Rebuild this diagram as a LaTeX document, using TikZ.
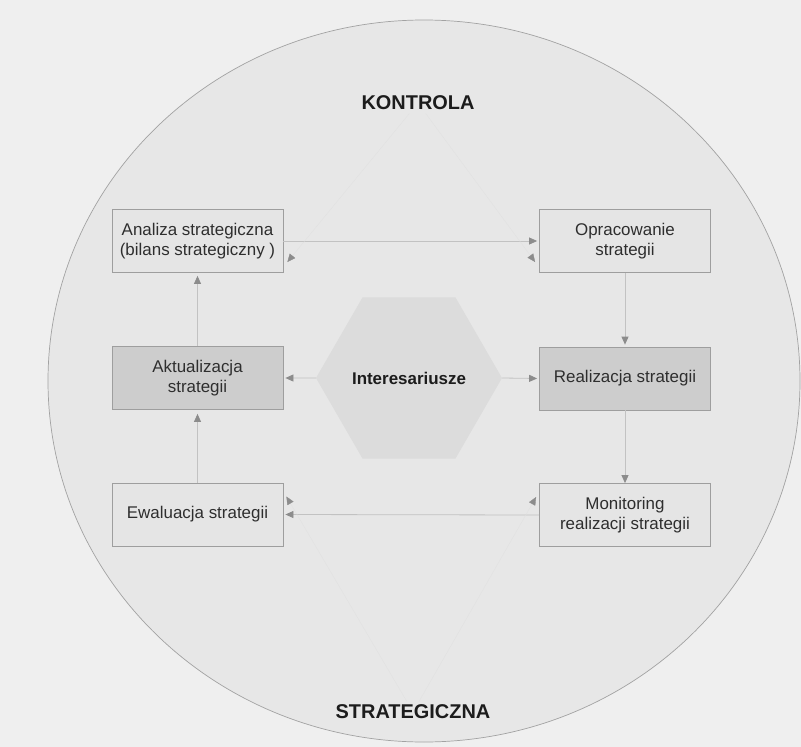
\documentclass[tikz,border=0pt]{standalone}
\usepackage{fontspec}
\setmainfont{Liberation Sans}
\usetikzlibrary{arrows.meta,shapes.geometric}

\definecolor{page}{HTML}{EFEFEF}
\definecolor{discfill}{HTML}{E7E7E7}
\definecolor{discline}{HTML}{A2A2A2}
\definecolor{boxfill}{HTML}{E5E5E5}
\definecolor{boxdark}{HTML}{CDCDCD}
\definecolor{boxline}{HTML}{9E9E9E}
\definecolor{hexfill}{HTML}{DCDCDC}
\definecolor{linkline}{HTML}{C2C2C2}
\definecolor{tipcol}{HTML}{8C8C8C}
\definecolor{boxtext}{HTML}{2E2E2E}
\definecolor{headtext}{HTML}{1C1C1C}

\tikzset{
  stagebox/.style={draw=boxline, fill=boxfill, line width=0.8bp,
    minimum width=171bp, minimum height=63bp, inner sep=0pt,
    align=center, text=boxtext, font=\fontsize{17}{20}\selectfont},
  stagedark/.style={stagebox, fill=boxdark},
  headlabel/.style={text=headtext, font=\fontsize{20}{24}\selectfont\bfseries},
  flow/.style={draw=linkline, line width=0.8bp,
    -{Triangle[length=8bp,width=7bp,color=tipcol,fill=tipcol]}},
  ctrl/.style={draw=discfill!97!black, line width=0.3bp,
    -{Triangle[length=8bp,width=7bp,color=tipcol,fill=tipcol]}},
}

\begin{document}
\begin{tikzpicture}[x=1bp,y=-1bp]
  % page and the large disc
  \fill[page] (0,0) rectangle (801,747);
  \useasboundingbox (0,0) rectangle (801,747);
  \filldraw[fill=discfill, draw=discline, line width=0.7bp]
    (424,381) ellipse [x radius=376, y radius=361];

  % labels of the disc
  \node[headlabel] (kon) at (418,103) {KONTROLA};
  \node[headlabel] (str) at (413,712) {STRATEGICZNA};

  % central stakeholders hexagon
  \node[regular polygon, regular polygon sides=6, minimum size=164bp,
        inner sep=0pt, fill=hexfill, text=headtext,
        font=\fontsize{17}{20}\selectfont\bfseries] (hex) at (409,378)
        {Interesariusze};

  % stages of the cycle
  \node[stagebox]  (ana) at (197.5,241)   {Analiza strategiczna\\(bilans strategiczny )};
  \node[stagebox]  (opr) at (625,241)     {Opracowanie\\strategii};
  \node[stagedark] (akt) at (197.5,378)   {Aktualizacja\\strategii};
  \node[stagedark] (rea) at (625,378.5)   {Realizacja strategii};
  \node[stagebox]  (ewa) at (197.5,514.5) {Ewaluacja strategii};
  \node[stagebox]  (mon) at (625,515)     {Monitoring\\realizacji strategii};

  % the cycle
  \draw[flow, shorten >=2bp] (ana.east) -- (opr.west);
  \draw[flow, shorten >=2bp] (opr.south) -- (rea.north);
  \draw[flow] (rea.south) -- (mon.north);
  \draw[flow, shorten >=2bp] (mon.west) -- (ewa.east);
  \draw[flow, shorten >=4bp] (ewa.north) -- (akt.south);
  \draw[flow, shorten >=3bp] (akt.north) -- (ana.south);

  % stakeholders
  \draw[flow, shorten >=2bp] (hex.west) -- (akt.east);
  \draw[flow, shorten >=2bp] (hex.east) -- (rea.west);

  % strategic control
  \draw[ctrl] (kon) -- ([xshift=4bp,yshift=-21bp]ana.east);
  \draw[ctrl] (kon) -- ([xshift=-4bp,yshift=-21bp]opr.west);
  \draw[ctrl] (str) -- ([xshift=3bp,yshift=18bp]ewa.east);
  \draw[ctrl] (str) -- ([xshift=-3bp,yshift=18bp]mon.west);
\end{tikzpicture}
\end{document}
